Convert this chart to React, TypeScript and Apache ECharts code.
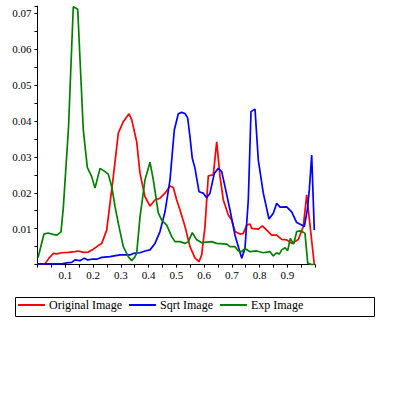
import React, { useEffect, useRef } from "react";
import * as echarts from "echarts";

const seriesNames = ["Original Image", "Sqrt Image", "Exp Image"];
const seriesColors = ["#ff0000", "#0000ff", "#008000"];

const origX = [0.0007, 0.027, 0.0414, 0.0569, 0.0692, 0.0872, 0.111, 0.1351, 0.147, 0.165, 0.1831, 0.2011, 0.2191, 0.2314, 0.2494, 0.2613, 0.2732, 0.2912, 0.3092, 0.3297, 0.3395, 0.3575, 0.3694, 0.3874, 0.4054, 0.4234, 0.4414, 0.4595, 0.4775, 0.4894, 0.5016, 0.5135, 0.5315, 0.5495, 0.5676, 0.582, 0.5917, 0.6036, 0.6155, 0.6335, 0.6458, 0.6577, 0.6696, 0.6876, 0.6998, 0.7117, 0.7297, 0.7416, 0.7539, 0.7658, 0.7719, 0.7957, 0.8101, 0.826, 0.844, 0.862, 0.88, 0.898, 0.916, 0.9279, 0.9398, 0.9578, 0.9701, 0.9975];
const origY = [0.0002, 0.0002, 0.0018, 0.0031, 0.003, 0.0033, 0.0034, 0.0036, 0.0038, 0.0034, 0.0035, 0.0043, 0.0053, 0.0059, 0.0096, 0.0171, 0.0245, 0.0366, 0.0398, 0.042, 0.0403, 0.0342, 0.0254, 0.0189, 0.0163, 0.018, 0.0185, 0.0199, 0.0219, 0.0215, 0.018, 0.0152, 0.0106, 0.005, 0.0018, 0.0008, 0.0027, 0.0106, 0.0247, 0.025, 0.0342, 0.0245, 0.018, 0.0138, 0.0124, 0.0092, 0.0085, 0.0087, 0.011, 0.0113, 0.0101, 0.0099, 0.0108, 0.0096, 0.0082, 0.0082, 0.007, 0.0069, 0.0059, 0.0064, 0.007, 0.0106, 0.0194, 0.0];

const sqrtX = [0.0007, 0.0872, 0.1052, 0.1232, 0.1351, 0.1532, 0.1686, 0.1809, 0.1953, 0.2133, 0.2314, 0.2613, 0.2973, 0.3153, 0.3333, 0.3452, 0.3694, 0.3874, 0.4054, 0.4234, 0.4414, 0.4595, 0.4775, 0.493, 0.5074, 0.5196, 0.5315, 0.5413, 0.5495, 0.5578, 0.5676, 0.582, 0.5975, 0.6097, 0.6216, 0.6371, 0.6515, 0.6638, 0.6757, 0.6937, 0.7117, 0.7359, 0.7477, 0.7596, 0.7694, 0.7838, 0.7957, 0.8137, 0.8342, 0.8497, 0.862, 0.8739, 0.898, 0.916, 0.9341, 0.9521, 0.9614, 0.9723, 0.9795, 0.9881, 0.9975];
const sqrtY = [0.0002, 0.0002, 0.0005, 0.0006, 0.0013, 0.0011, 0.0018, 0.0013, 0.0015, 0.0015, 0.002, 0.0022, 0.0027, 0.0027, 0.0027, 0.0031, 0.0033, 0.0038, 0.0041, 0.0059, 0.0092, 0.0147, 0.0236, 0.0375, 0.042, 0.0424, 0.0421, 0.0408, 0.0356, 0.0296, 0.0268, 0.0203, 0.0199, 0.0186, 0.0199, 0.0254, 0.0268, 0.0259, 0.0217, 0.0152, 0.0082, 0.0018, 0.0045, 0.018, 0.0426, 0.0433, 0.0291, 0.0199, 0.0127, 0.0143, 0.0171, 0.016, 0.0161, 0.0147, 0.0117, 0.011, 0.0106, 0.0152, 0.0208, 0.0305, 0.0096];

const expX = [0.0018, 0.0234, 0.0378, 0.0559, 0.0703, 0.0847, 0.093, 0.1117, 0.129, 0.1449, 0.165, 0.1795, 0.1953, 0.2072, 0.2252, 0.2432, 0.2551, 0.2674, 0.2793, 0.2912, 0.3092, 0.3272, 0.3395, 0.3514, 0.3575, 0.3694, 0.3874, 0.4054, 0.4173, 0.4353, 0.4476, 0.4656, 0.4836, 0.4955, 0.5135, 0.5315, 0.5434, 0.5578, 0.5737, 0.5917, 0.6277, 0.6458, 0.6818, 0.6937, 0.7117, 0.7236, 0.7359, 0.7477, 0.7658, 0.7899, 0.8137, 0.8378, 0.8497, 0.862, 0.8714, 0.88, 0.8919, 0.9016, 0.911, 0.9232, 0.9341, 0.9459, 0.9578, 0.964, 0.9737, 0.9881, 0.9975];
const expY = [0.0019, 0.0085, 0.0088, 0.0084, 0.0082, 0.0091, 0.0158, 0.0381, 0.0718, 0.0711, 0.0375, 0.0271, 0.0245, 0.0213, 0.0268, 0.0259, 0.0252, 0.0217, 0.0162, 0.0115, 0.005, 0.0022, 0.0011, 0.0022, 0.0032, 0.0133, 0.0236, 0.0285, 0.0236, 0.0144, 0.0124, 0.011, 0.0078, 0.0064, 0.0064, 0.0059, 0.0064, 0.0089, 0.0069, 0.0061, 0.0064, 0.0059, 0.0057, 0.005, 0.005, 0.0038, 0.0036, 0.0045, 0.0036, 0.0038, 0.0033, 0.0036, 0.0024, 0.0033, 0.0029, 0.0041, 0.0047, 0.0039, 0.0073, 0.0057, 0.0092, 0.0094, 0.009, 0.0087, 0.0004, 0.0, 0.0];

const xTickInterval = 0.1;
const yTickInterval = 0.01;

const FONT = "Liberation Serif";

function pairs(xs: number[], ys: number[]) {
  return xs.map((x, i) => [x, ys[i]]);
}

export default function App() {
  const ref = useRef<HTMLDivElement>(null);
  useEffect(() => {
    if (!ref.current) return;
    const chart = echarts.init(ref.current, undefined, { renderer: "svg" });
    const data = [pairs(origX, origY), pairs(sqrtX, sqrtY), pairs(expX, expY)];
    chart.setOption({
      animation: false,
      backgroundColor: "#ffffff",
      textStyle: { fontFamily: FONT },
      grid: { left: 37.5, right: 80, top: 6.1, bottom: 130.4, containLabel: false },
      xAxis: {
        type: "value",
        min: 0,
        max: 1,
        interval: xTickInterval,
        axisLine: { lineStyle: { color: "#000", width: 1 } },
        axisTick: { show: true, length: 3, lineStyle: { color: "#000" } },
        minorTick: { show: true, splitNumber: 2, length: 3, lineStyle: { color: "#000" } },
        splitLine: { show: false },
        axisLabel: {
          showMinLabel: false,
          showMaxLabel: false,
          color: "#000",
          fontFamily: FONT,
          fontSize: 11,
          margin: 5,
          formatter: (v: number) => v.toFixed(1),
        },
      },
      yAxis: {
        type: "value",
        min: 0,
        max: 0.072,
        interval: yTickInterval,
        axisLine: { show: true, lineStyle: { color: "#000", width: 1 } },
        axisTick: { show: true, length: 3, lineStyle: { color: "#000" } },
        minorTick: { show: true, splitNumber: 2, length: 3, lineStyle: { color: "#000" } },
        splitLine: { show: false },
        axisLabel: {
          showMinLabel: false,
          showMaxLabel: false,
          color: "#000",
          fontFamily: FONT,
          fontSize: 11,
          margin: 6,
          formatter: (v: number) => v.toFixed(2),
        },
      },
      legend: {
        left: 18,
        top: 299,
        padding: 0,
        itemWidth: 27,
        itemHeight: 2,
        itemGap: 7,
        icon: "rect",
        textStyle: { color: "#000", fontFamily: FONT, fontSize: 12, padding: [0, 0, 0, -1] },
        data: seriesNames,
      },
      graphic: [
        {
          type: "rect",
          shape: { x: 15.5, y: 297.5, width: 359, height: 19 },
          style: { fill: "none", stroke: "#000", lineWidth: 1 },
          silent: true,
        },
      ],
      series: seriesNames.map((name, i) => ({
        name,
        type: "line",
        data: data[i],
        showSymbol: false,
        symbol: "none",
        color: seriesColors[i],
        lineStyle: { color: seriesColors[i], width: 1.7 },
      })),
    });
    return () => chart.dispose();
  }, []);
  return (
    <div
      ref={ref}
      style={{ position: "fixed", left: 0, top: 0, width: 395, height: 395, background: "#fff" }}
    />
  );
}
